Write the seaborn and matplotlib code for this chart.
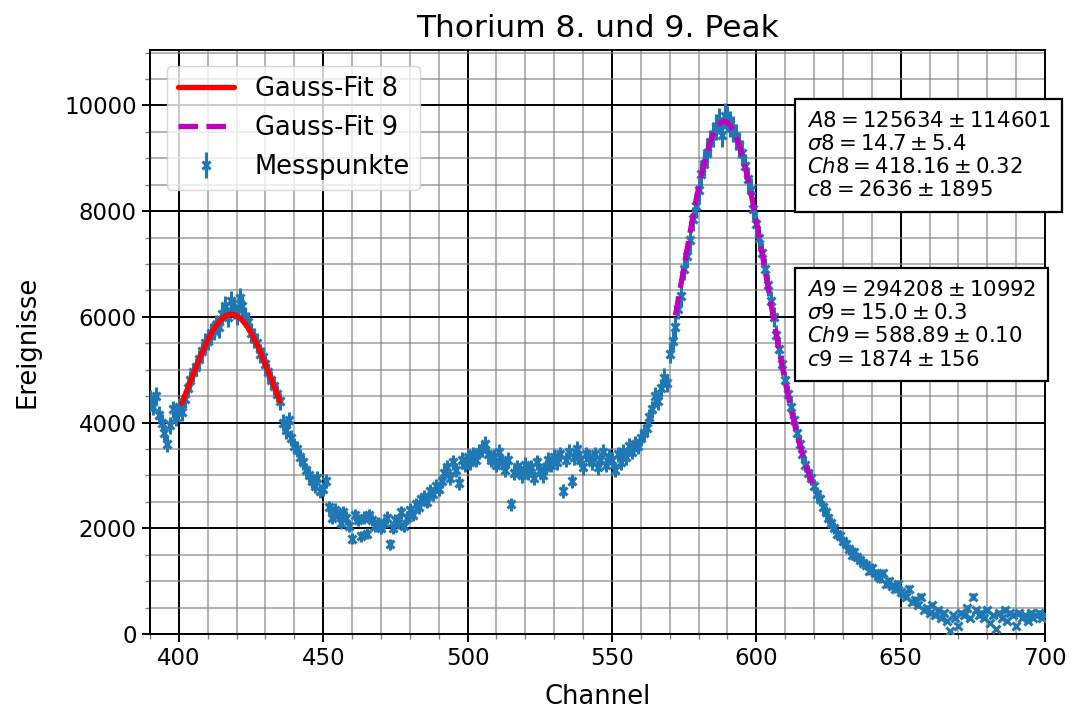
import numpy as np
import pandas as pd
import matplotlib
matplotlib.use("Agg")
import matplotlib.pyplot as plt
import seaborn as sns
from matplotlib.ticker import MultipleLocator

# channels 390..700, counts
channel = np.arange(390, 701)
counts = [
    4450, 4300, 4500, 4150, 4000, 3800, 3600, 3950, 4250, 4100,   # 390
    4300, 4200, 4450, 4650, 4800, 4950, 5050, 5200, 5350, 5500,   # 400
    5550, 5700, 5750, 5850, 5800, 6050, 6200, 6000, 6300, 6150,   # 410
    6050, 6350, 6200, 6000, 5900, 5700, 5600, 5500, 5300, 5250,   # 420
    5100, 4950, 4800, 4700, 4550, 4400, 4000, 3850, 4050, 3700,   # 430
    3550, 3500, 3350, 3250, 3100, 3000, 2900, 2800, 2950, 2700,   # 440
    2750, 2900, 2400, 2200, 2350, 2250, 2100, 2300, 2200, 2050,   # 450
    1800, 2250, 2150, 1850, 2200, 1900, 2250, 2150, 2050, 2100,   # 460
    2000, 2100, 2200, 1700, 2000, 2150, 2100, 2300, 2050, 2200,   # 470
    2350, 2250, 2450, 2400, 2550, 2600, 2500, 2700, 2650, 2800,   # 480
    2750, 2900, 3050, 3150, 2950, 3250, 3100, 2850, 3300, 3200,   # 490
    3350, 3250, 3400, 3300, 3450, 3500, 3600, 3400, 3300, 3350,   # 500
    3200, 3450, 3250, 3100, 3300, 2450, 3050, 3150, 3100, 3000,   # 510
    3200, 3050, 3150, 2950, 3250, 3100, 3000, 3150, 3300, 3200,   # 520
    3350, 3250, 3400, 2700, 3300, 3450, 2900, 3350, 3500, 3300,   # 530
    3150, 3400, 3350, 3250, 3400, 3150, 3300, 3450, 3200, 3350,   # 540
    3300, 3100, 3400, 3250, 3450, 3350, 3550, 3450, 3600, 3550,   # 550
    3700, 3800, 3900, 4100, 4250, 4500, 4400, 4650, 4850, 4750,   # 560
    5300, 5550, 5800, 6150, 6400, 6900, 7150, 7450, 7850, 8100,   # 570
    8400, 8700, 8900, 9100, 9300, 9450, 9600, 9700, 9450, 9800,   # 580
    9750, 9650, 9550, 9400, 9250, 9100, 8850, 8600, 8400, 8050,   # 590
    7750, 7500, 7200, 6900, 6600, 6300, 6000, 5650, 5400, 5100,   # 600
    4800, 4550, 4300, 4050, 3800, 3600, 3400, 3200, 3050, 2950,   # 610
    2800, 2650, 2550, 2400, 2300, 2200, 2100, 2000, 1900, 1850,   # 620
    1750, 1700, 1600, 1500, 1550, 1450, 1400, 1350, 1300, 1200,   # 630
    1250, 1150, 1100, 1050, 1150, 950, 1000, 900, 850, 950,       # 640
    800, 750, 700, 850, 600, 650, 550, 700, 450, 500,             # 650
    400, 550, 350, 450, 300, 400, 250, 50, 350, 300,              # 660
    150, 400, 350, 500, 300, 700, 450, 350, 400, 300,             # 670
    450, 200, 350, 100, 400, 300, 450, 250, 400, 350,             # 680
    150, 400, 300, 350, 250, 400, 300, 350, 400, 300,             # 690
    350,                                                          # 700
]
counts = np.array(counts, dtype=float)
errors = 2.5 * np.sqrt(counts)

# fit results shown in the boxes
A8, s8, ch8, c8 = 125634, 14.7, 418.16, 2636
A9, s9, ch9, c9 = 294208, 15.0, 588.89, 1874
fit8_range = (401, 435)
fit9_range = (572, 620)


def gauss(x, A, s, mu, c):
    return A / (np.sqrt(2 * np.pi) * s) * np.exp(-(x - mu) ** 2 / (2 * s ** 2)) + c


x8 = np.linspace(*fit8_range, 300)
x9 = np.linspace(*fit9_range, 300)
fit8 = pd.DataFrame({"x": x8, "y": gauss(x8, A8, s8, ch8, c8)})
fit9 = pd.DataFrame({"x": x9, "y": gauss(x9, A9, s9, ch9, c9)})

sns.set_style("ticks")
plt.rcParams["font.family"] = ["DejaVu Sans"]
plt.rcParams["mathtext.fontset"] = "dejavusans"
plt.rcParams["text.color"] = "black"
plt.rcParams["axes.labelcolor"] = "black"
plt.rcParams["xtick.color"] = "black"
plt.rcParams["ytick.color"] = "black"

fig = plt.figure(figsize=(10.73, 7.12), dpi=100)
ax = fig.add_axes([0.1398, 0.1096, 0.8341, 0.8202])

sns.lineplot(data=fit8, x="x", y="y", ax=ax, color="red", lw=3.8,
             label="Gauss-Fit 8", zorder=4)
sns.lineplot(data=fit9, x="x", y="y", ax=ax, color="m", lw=3.8,
             linestyle="--", dashes=(3.2, 1.8), label="Gauss-Fit 9", zorder=4)
ax.errorbar(channel, counts, yerr=errors, fmt="x", color="tab:blue",
            ms=5.5, mew=2.2, elinewidth=2.2, capsize=0,
            label="Messpunkte", zorder=3)

ax.set_xlim(390, 700)
ax.set_ylim(0, 11050)
ax.xaxis.set_major_locator(MultipleLocator(50))
ax.xaxis.set_minor_locator(MultipleLocator(10))
ax.yaxis.set_major_locator(MultipleLocator(2000))
ax.yaxis.set_minor_locator(MultipleLocator(500))
ax.grid(which="major", color="black", lw=1.4)
ax.grid(which="minor", color="gray", alpha=0.6, lw=1.4)
ax.set_axisbelow(True)
for sp in ax.spines.values():
    sp.set_color("black")
    sp.set_linewidth(1.4)
ax.tick_params(which="major", labelsize=16.5, length=6, width=1.4, color="black")
ax.tick_params(which="minor", length=3.5, width=1.0, color="gray")

ax.set_title("Thorium 8. und 9. Peak", fontsize=22.5, pad=9)
ax.set_xlabel("Channel", fontsize=18.5, labelpad=10)
ax.set_ylabel("Ereignisse", fontsize=18.5, labelpad=17)

leg = ax.legend(loc="upper left", fontsize=18.5, bbox_to_anchor=(0.005, 0.995),
                handlelength=2.2)

box_kw = dict(boxstyle="square,pad=0.55", facecolor="white", edgecolor="black", lw=1.6)
txt8 = "\n".join([
    r"$A8 = 125634 \pm 114601$",
    r"$\sigma8 = 14.7 \pm 5.4$",
    r"$Ch8 = 418.16 \pm 0.32$",
    r"$c8 = 2636 \pm 1895$",
])
txt9 = "\n".join([
    r"$A9 = 294208 \pm 10992$",
    r"$\sigma9 = 15.0 \pm 0.3$",
    r"$Ch9 = 588.89 \pm 0.10$",
    r"$c9 = 1874 \pm 156$",
])
ax.text(617.6, 9050, txt8, fontsize=15.3, va="center", ha="left", bbox=box_kw,
        zorder=6, clip_on=False)
ax.text(617.6, 5850, txt9, fontsize=15.3, va="center", ha="left", bbox=box_kw,
        zorder=6, clip_on=False)

fig.savefig("out.png", dpi=100)
